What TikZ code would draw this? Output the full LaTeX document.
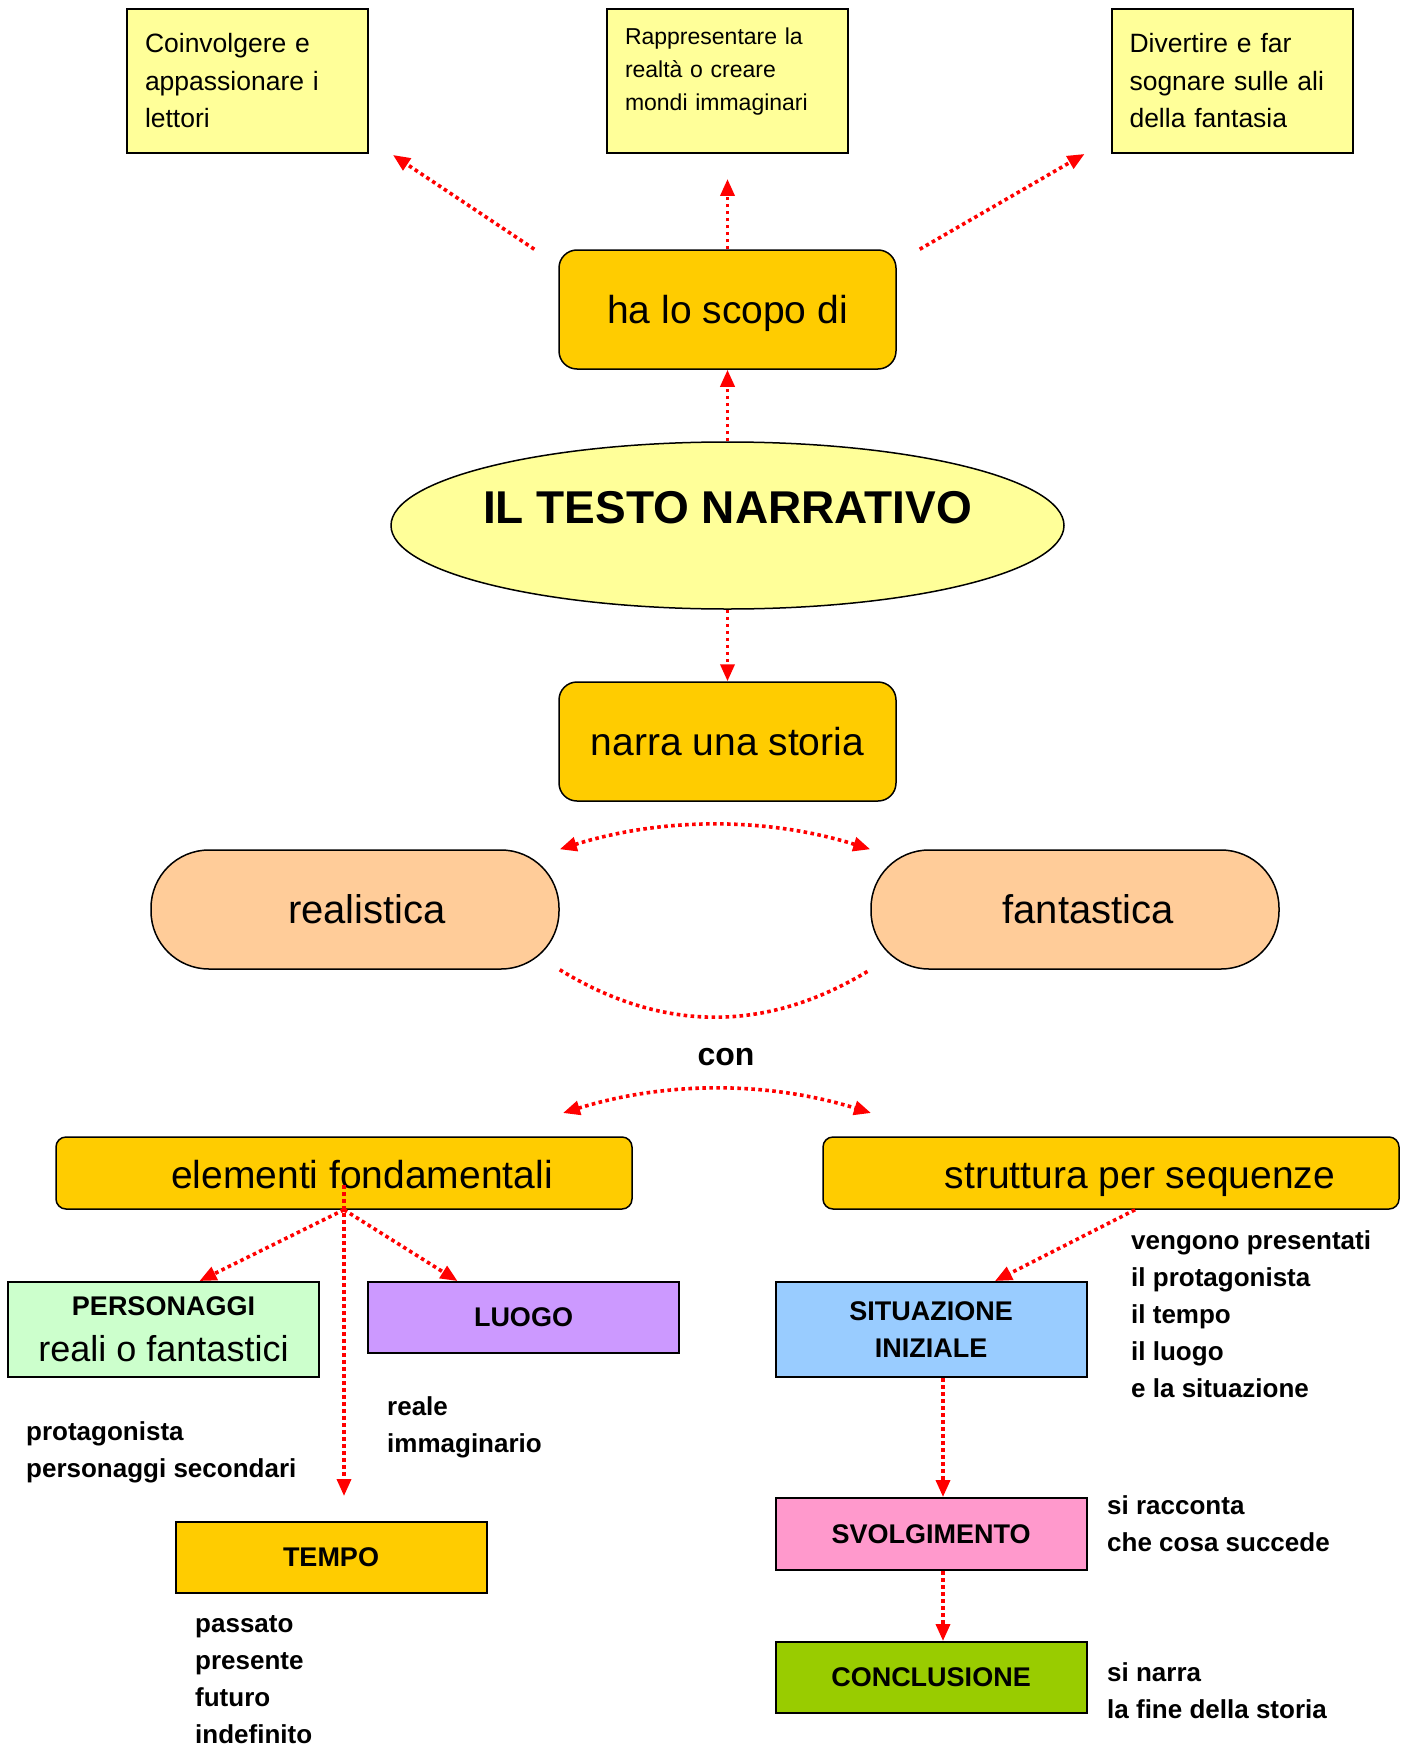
\documentclass[tikz,border=0pt]{standalone}
\usepackage{fontspec}
\setmainfont{Liberation Sans}
\usetikzlibrary{arrows.meta,shapes.geometric}
\definecolor{giallo}{HTML}{FFFF99}
\definecolor{oro}{HTML}{FFCC00}
\definecolor{pesca}{HTML}{FFCC99}
\definecolor{menta}{HTML}{CCFFCC}
\definecolor{lilla}{HTML}{CC99FF}
\definecolor{celeste}{HTML}{99CCFF}
\definecolor{rosa}{HTML}{FF99CC}
\definecolor{verde}{HTML}{99CC00}

\begin{document}
\begin{tikzpicture}[x=1pt,y=-1pt,
    >={Triangle[length=17pt,width=14pt]},
    dots/.style={color=red, line width=3.6pt, dash pattern=on 3.6pt off 3.4pt},
    link/.style={dots, ->},
    goal/.style={draw, line width=2pt, fill=giallo, minimum width=241pt, minimum height=144pt,
        text width=205pt, inner xsep=18pt, align=left},
    key/.style={draw, line width=1.5pt, fill=oro, rounded corners=18pt, minimum width=337pt,
        minimum height=119pt, font=\fontsize{39}{46}\selectfont},
    kind/.style={draw, line width=1.5pt, fill=pesca, rounded corners=58pt, minimum width=408pt,
        minimum height=119pt},
    part/.style={draw, line width=1.5pt, fill=oro, rounded corners=10pt, minimum width=576pt,
        minimum height=72pt},
    elem/.style={draw, line width=2pt, minimum width=311pt, align=center,
        font=\bfseries\fontsize{27}{37}\selectfont},
    note/.style={anchor=west, align=left, inner sep=0pt, font=\bfseries\fontsize{26}{37}\selectfont}]
	\useasboundingbox (0,0) rectangle (1406,1747);
	\fill[white] (0,0) rectangle (1406,1747);
	% scopi
	\node[goal, font=\fontsize{26.5}{37.5}\selectfont] (coin) at (247.5,81) {Coinvolgere e\\appassionare i\\lettori};
	\node[goal, font=\fontsize{23}{33}\selectfont, label={[font=\fontsize{23}{33}\selectfont, text width=205pt, align=left, yshift=9pt]center:Rappresentare la\\realtà o creare\\mondi immaginari}] (rapp) at (727.5,81) {};
	\node[goal, font=\fontsize{26.5}{37.5}\selectfont] (dive) at (1232,81) {Divertire e far\\sognare sulle ali\\della fantasia};
	\node[key, text depth=0pt] (scopo) at (727.5,309.5) {ha lo scopo di};
	% centro
	\node[draw, ellipse, line width=1.5pt, fill=giallo, minimum width=673pt, minimum height=167pt, inner sep=0pt,
	    label={[yshift=18pt, font=\bfseries\fontsize{46}{50}\selectfont]center:IL TESTO NARRATIVO}] (testo) at (727.5,525.5) {};
	\node[key] (storia) at (727.5,741.5) {narra una storia};
	\node[kind, label={[xshift=12pt, font=\fontsize{40}{46}\selectfont]center:realistica}] (real) at (355,909.5) {};
	\node[kind, label={[xshift=13pt, font=\fontsize{40}{46}\selectfont]center:fantastica}] (fant) at (1075,909.5) {};
	\node[font=\bfseries\fontsize{32}{36}\selectfont] (con) at (726,1057) {con};
	\node[part, label={[xshift=18pt, yshift=-2pt, font=\fontsize{39}{46}\selectfont]center:elementi fondamentali}] (fond) at (344,1173) {};
	\node[part, label={[xshift=29pt, yshift=-7pt, font=\fontsize{39}{46}\selectfont]center:struttura per sequenze}] (seq) at (1111,1173) {};
	% elementi
	\node[elem, fill=menta, minimum height=95pt, font=\fontsize{36}{41}\selectfont] (pers) at (163.5,1329.5)
	    {{\bfseries\fontsize{27}{41}\selectfont PERSONAGGI}\\[5pt]reali o fantastici};
	\node[elem, fill=lilla, minimum height=71pt] (luogo) at (523.5,1317.5) {LUOGO};
	\node[elem, fill=oro, minimum height=71pt] (tempo) at (331,1557.5) {TEMPO};
	\node[note] (prot) at (26,1452) {protagonista\\personaggi secondari};
	\node[note] (spazi) at (387,1427) {reale\\immaginario};
	\node[note] (tempi) at (195,1680) {passato\\presente\\futuro\\indefinito};
	% sequenze
	\node[elem, fill=celeste, minimum height=95pt] (sit) at (931,1329.5) {SITUAZIONE\\INIZIALE};
	\node[elem, fill=rosa, minimum height=72pt] (svol) at (931,1534) {SVOLGIMENTO};
	\node[elem, fill=verde, minimum height=71pt] (conc) at (931,1677.5) {CONCLUSIONE};
	\node[note] (pres) at (1131,1314.5) {vengono presentati\\il protagonista\\il tempo\\il luogo\\e la situazione};
	\node[note] (racc) at (1107,1523.5) {si racconta\\che cosa succede};
	\node[note] (fine) at (1107,1691) {si narra\\la fine della storia};
	% frecce
	\draw[link] ([xshift=-24pt]scopo.north west) -- ([xshift=24pt,yshift=-1pt]coin.south east);
	\draw[link] (scopo.north) -- ([yshift=-25pt]rapp.south);
	\draw[link] ([xshift=23pt]scopo.north east) -- ([xshift=-26pt]dive.south west);
	\draw[link] (testo.north) -- (scopo.south);
	\draw[link] (testo.south) -- (storia.north);
	\draw[link, <->] (real.north east) .. controls (663,817) and (767,817) .. (fant.north west);
	\draw[dots] (real.south east) .. controls (663,1033) and (767,1033) .. (fant.south west);
	\coordinate (cl) at (563,1113);
	\coordinate (cr) at (871,1113);
	\draw[link, <->] (cl) .. controls (666,1081) and (768,1081) .. (cr);
	\coordinate (hub) at (344,1185);
	\coordinate (tempotip) at (344,1496);
	\draw[link] (fond.south) -- ([xshift=36pt]pers.north);
	\draw[link] (fond.south) -- ([xshift=-66pt]luogo.north);
	\draw[link] (hub) -- (tempotip);
	\draw[link] ([xshift=24pt]seq.south) -- ([xshift=64pt]sit.north);
	\draw[link] ([xshift=12pt]sit.south) -- ([xshift=12pt]svol.north);
	\draw[link] ([xshift=12pt]svol.south) -- ([xshift=12pt]conc.north);
\end{tikzpicture}
\end{document}
